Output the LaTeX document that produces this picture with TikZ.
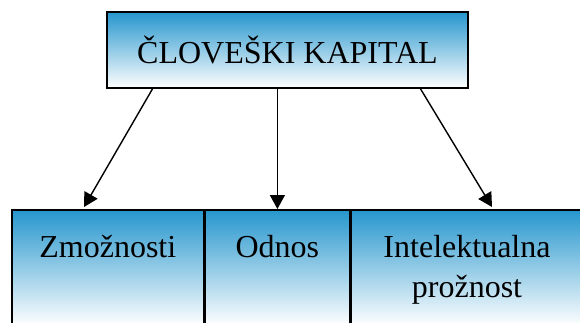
\documentclass[tikz,border=0pt]{standalone}
\usepackage{fontspec}
\setmainfont{Liberation Serif}
\usetikzlibrary{arrows.meta,positioning,calc}
\definecolor{topblue}{RGB}{38,150,205}
\definecolor{midblue}{RGB}{155,188,216}

\tikzset{
  box/.style={draw, line width=1.6pt, rectangle, inner sep=0pt, top color=topblue, middle color=midblue, bottom color=white},
  lbl/.style={font=\fontsize{32}{40}\selectfont, align=center, anchor=base},
  arr/.style={line width=1.4pt, -{Triangle[length=14pt,width=15pt]}}
}

\begin{document}
\begin{tikzpicture}[x=1pt, y=-1pt]
\useasboundingbox (0,0) rectangle (580,322);
\clip (0,0) rectangle (580,322);

% top box
\node[box, minimum width=361pt, minimum height=76pt, font=\fontsize{32}{40}\selectfont] (kapital) at (287.5,50) {ČLOVEŠKI KAPITAL};

% bottom row
\node[box, minimum width=192pt, minimum height=116pt, anchor=north west] (zmoz) at (11,209) {};
\node[box, minimum width=144pt, minimum height=116pt, anchor=north west] (odnos) at (zmoz.north east) {};
\node[box, minimum width=250pt, minimum height=116pt, anchor=north west] (prozn) at (odnos.north east) {};

\node[lbl] (zmoztxt) at ($(zmoz.north)+(0,48)$) {Zmožnosti};
\node[lbl] (odnostxt) at ($(odnos.north)+(0,48)$) {Odnos};
\node[lbl] (prozntxt) at (467,297) {Intelektualna\\prožnost};

% arrows
\draw[arr] (153,88) -- (84,207);
\draw[arr] (kapital.south -| odnos.north) -- (odnos.north);
\draw[arr] (420,88) -- (492,207);
\end{tikzpicture}
\end{document}
